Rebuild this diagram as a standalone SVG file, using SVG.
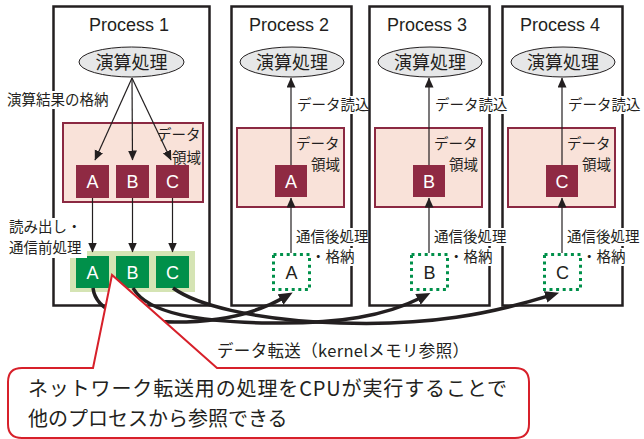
<svg xmlns="http://www.w3.org/2000/svg" width="644" height="439" viewBox="0 0 644 439">
<style>
.box{fill:#fff;stroke:#231f20;stroke-width:2.5}
.ell{fill:#e6e7e8;stroke:#231f20;stroke-width:1}
.pink{fill:#f9e2d9;stroke:#8b2942;stroke-width:2}
.red{fill:#8f2a43}
.grn{fill:#00904a}
.lgrn{fill:#d5e4b4}
.dot{fill:#fff;stroke:#00904a;stroke-width:3;stroke-dasharray:3 3.6}
.ttl{font-family:"Liberation Sans",Arial,sans-serif;font-size:18px;fill:#231f20;text-anchor:middle}
.jp{font-family:"Noto Sans CJK JP","Noto Sans",sans-serif;font-size:14.5px;fill:#231f20}
.ej{font-family:"Noto Sans CJK JP","Noto Sans",sans-serif;font-size:18px;fill:#231f20;text-anchor:middle}
.let{font-family:"Liberation Sans",Arial,sans-serif;font-size:18px;fill:#fff;text-anchor:middle}
.letd{font-family:"Liberation Sans",Arial,sans-serif;font-size:18px;fill:#231f20;text-anchor:middle}
.thin{fill:none;stroke:#231f20;stroke-width:1.2}
.thick{fill:none;stroke:#231f20;stroke-width:3.5}
.call{fill:#fff;stroke:#d7202a;stroke-width:2;stroke-linejoin:miter}
.ct{font-family:"Noto Sans CJK JP","Noto Sans",sans-serif;font-size:20px;fill:#231f20}
</style>
<defs>
<marker id="ah" markerUnits="userSpaceOnUse" markerWidth="12" markerHeight="10" refX="9.5" refY="4.5" orient="auto" viewBox="0 0 12 10">
<path d="M0,0 L10,4.5 L0,9 z" fill="#231f20"/>
</marker>
<marker id="ahb" markerUnits="userSpaceOnUse" markerWidth="16" markerHeight="14" refX="4" refY="6" orient="auto" viewBox="0 0 16 14">
<path d="M0,0 L14,6 L0,12 z" fill="#231f20"/>
</marker>
</defs>

<g id="process1">
<rect class="box" x="53.5" y="6.5" width="156" height="299"/>
<text class="ttl" x="129" y="31">Process 1</text>
<ellipse class="ell" cx="131.5" cy="62" rx="52.5" ry="15"/>
<text class="ej" x="131.5" y="69">演算処理</text>
<rect class="pink" x="63" y="123" width="140" height="79"/>
<rect x="155" y="126" width="46" height="18" fill="#f9e2d9"/>
<text class="jp" x="157" y="140">データ</text>
<text class="jp" x="172" y="163">領域</text>
<rect class="red" x="76" y="165" width="33" height="33"/>
<rect class="red" x="116" y="165" width="33" height="33"/>
<rect class="red" x="156" y="165" width="33" height="33"/>
<text class="let" x="92.5" y="188">A</text>
<text class="let" x="132.5" y="188">B</text>
<text class="let" x="172.5" y="188">C</text>
<rect class="lgrn" x="70" y="251" width="125" height="41"/>
<rect class="grn" x="76" y="256" width="33" height="32"/>
<rect class="grn" x="116" y="256" width="33" height="32"/>
<rect class="grn" x="156" y="256" width="33" height="32"/>
<text class="let" x="92.5" y="278.5">A</text>
<text class="let" x="132.5" y="278.5">B</text>
<text class="let" x="172.5" y="278.5">C</text>
</g>

<g id="process2">
<rect class="box" x="231.5" y="6.5" width="120" height="299"/>
<text class="ttl" x="289" y="31">Process 2</text>
<ellipse class="ell" cx="292" cy="62" rx="52" ry="15"/>
<text class="ej" x="292" y="69">演算処理</text>
<rect class="pink" x="237" y="128" width="107" height="79"/>
<text class="jp" x="296" y="149">データ</text>
<text class="jp" x="311" y="170">領域</text>
<rect class="red" x="275" y="165" width="32" height="32"/>
<text class="let" x="291" y="187.5">A</text>
<rect class="dot" x="273.5" y="254.5" width="36" height="35"/>
<text class="letd" x="291.5" y="278.5">A</text>
</g>

<g id="process3">
<rect class="box" x="369.5" y="6.5" width="120" height="299"/>
<text class="ttl" x="427" y="31">Process 3</text>
<ellipse class="ell" cx="430" cy="62" rx="52" ry="15"/>
<text class="ej" x="430" y="69">演算処理</text>
<rect class="pink" x="375" y="128" width="107" height="79"/>
<text class="jp" x="434" y="149">データ</text>
<text class="jp" x="449" y="170">領域</text>
<rect class="red" x="413" y="165" width="32" height="32"/>
<text class="let" x="429" y="187.5">B</text>
<rect class="dot" x="411.5" y="254.5" width="36" height="35"/>
<text class="letd" x="429.5" y="278.5">B</text>
</g>

<g id="process4">
<rect class="box" x="502.5" y="6.5" width="120" height="299"/>
<text class="ttl" x="560" y="31">Process 4</text>
<ellipse class="ell" cx="563" cy="62" rx="52" ry="15"/>
<text class="ej" x="563" y="69">演算処理</text>
<rect class="pink" x="508" y="128" width="107" height="79"/>
<text class="jp" x="567" y="149">データ</text>
<text class="jp" x="582" y="170">領域</text>
<rect class="red" x="546" y="165" width="32" height="32"/>
<text class="let" x="562" y="187.5">C</text>
<rect class="dot" x="544.5" y="254.5" width="36" height="35"/>
<text class="letd" x="562.5" y="278.5">C</text>
</g>

<g id="connectors">
<path class="thin" d="M132 78 L95 160" marker-end="url(#ah)"/>
<path class="thin" d="M132 78 L132.5 160" marker-end="url(#ah)"/>
<path class="thin" d="M132 78 L171 160" marker-end="url(#ah)"/>
<path class="thin" d="M92.5 198 L92.5 252" marker-end="url(#ah)"/>
<path class="thin" d="M132.5 198 L132.5 252" marker-end="url(#ah)"/>
<path class="thin" d="M172.5 198 L172.5 252" marker-end="url(#ah)"/>
<path class="thin" d="M291 253 L291 198" marker-end="url(#ah)"/>
<path class="thin" d="M291 165 L291 78" marker-end="url(#ah)"/>
<path class="thin" d="M429 253 L429 198" marker-end="url(#ah)"/>
<path class="thin" d="M429 165 L429 78" marker-end="url(#ah)"/>
<path class="thin" d="M562 253 L562 198" marker-end="url(#ah)"/>
<path class="thin" d="M562 165 L562 78" marker-end="url(#ah)"/>
<path class="thick" d="M93 288 C96 312 125 322 175 322 C220 322 255 314 284 297.5" marker-end="url(#ahb)"/>
<path class="thick" d="M133 288 C148 314 200 322 270 323 C340 324 385 316 421.5 297.5" marker-end="url(#ahb)"/>
<path class="thick" d="M173 288 C195 304 250 320 340 323 C430 326 490 314 549.5 295.7" marker-end="url(#ahb)"/>
</g>

<g id="labels">
<rect x="5" y="91" width="112" height="18" fill="#fff"/>
<text class="jp" x="7" y="105">演算結果の格納</text>
<rect x="7" y="218" width="80" height="40" fill="#fff"/>
<text class="jp" x="9" y="232">読み出し・</text>
<text class="jp" x="9" y="253">通信前処理</text>
<rect x="295" y="96" width="73" height="18" fill="#fff"/>
<text class="jp" x="297" y="110">データ読込</text>
<rect x="433" y="96" width="74" height="18" fill="#fff"/>
<text class="jp" x="435" y="110">データ読込</text>
<rect x="566" y="96" width="78" height="18" fill="#fff"/>
<text class="jp" x="568" y="110">データ読込</text>
<rect x="294" y="228" width="74" height="18" fill="#fff"/>
<text class="jp" x="296" y="242">通信後処理</text>
<rect x="313" y="248" width="45" height="18" fill="#fff"/>
<text class="jp" x="311" y="262">・格納</text>
<rect x="432" y="228" width="74" height="18" fill="#fff"/>
<text class="jp" x="434" y="242">通信後処理</text>
<rect x="451" y="248" width="45" height="18" fill="#fff"/>
<text class="jp" x="449" y="262">・格納</text>
<rect x="565" y="228" width="76" height="18" fill="#fff"/>
<text class="jp" x="567" y="242">通信後処理</text>
<rect x="584" y="248" width="45" height="18" fill="#fff"/>
<text class="jp" x="582" y="262">・格納</text>
<text class="jp" x="217" y="357" style="font-size:16.5px" textLength="252" lengthAdjust="spacing">データ転送（kernelメモリ参照）</text>
</g>

<g id="callout">
<path class="call" d="M93 368 L112 275 L217 368 L515 368 Q529 368 529 382 L529 424 Q529 438 515 438 L22 438 Q8 438 8 424 L8 382 Q8 368 22 368 Z"/>
<text class="ct"><tspan x="28" y="396" textLength="479" lengthAdjust="spacing">ネットワーク転送用の処理をCPUが実行することで</tspan><tspan x="28" y="425.5">他のプロセスから参照できる</tspan></text>
</g>
</svg>
